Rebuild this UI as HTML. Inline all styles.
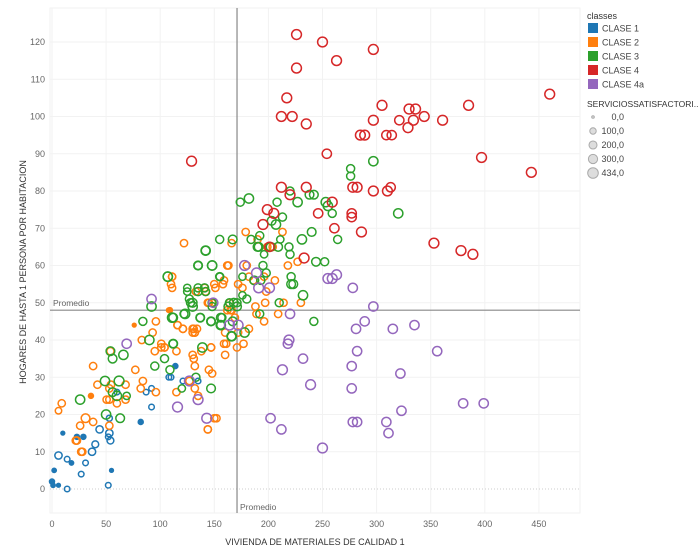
<!DOCTYPE html>
<html><head><meta charset="utf-8">
<style>
body{margin:0;background:#fff;font-family:"Liberation Sans",sans-serif;}
#wrap{position:relative;width:700px;height:560px;overflow:hidden;}
svg text{font-family:"Liberation Sans",sans-serif;}
</style></head>
<body>
<div id="wrap">
<svg id="chart" width="700" height="560">
  <g id="grid"></g>
  <g id="axes"></g>
  <g id="marks"></g>
  <text x="315" y="545" text-anchor="middle" font-size="9" fill="#333">VIVIENDA DE MATERIALES DE CALIDAD 1</text>
  <text transform="translate(26,272) rotate(-90)" text-anchor="middle" font-size="9" fill="#333">HOGARES DE HASTA 1 PERSONA POR HABITACION</text>
  <g id="legend">
    <text x="587" y="19" font-size="9" fill="#333">classes</text>
    <text x="587" y="107" font-size="8.5" fill="#333">SERVICIOSSATISFACTORI..</text>
  </g>
</svg>
</div>
<script>
const xTicks=[0,50,100,150,200,250,300,350,400,450];
const yTicks=[0,10,20,30,40,50,60,70,80,90,100,110,120];
const avgX=171, avgY=48;
const classNames=["CLASE 1","CLASE 2","CLASE 3","CLASE 4","CLASE 4a"];
const classColors=["#1f77b4","#ff7f0e","#2ca02c","#d62728","#9467bd"];
const sizeLegend=[0,100,200,300,434];
const sizeLabels=["0,0","100,0","200,0","300,0","434,0"];

const c1x=[53,44,53,54,52,37,40,31,27,23,29,10,6,14,18,2,0,1,6,14,52,55,82,92,92,87,60,110,121,135,114,108];
const c1y=[19,16,15,13,14,10,12,7,4,14,14,15,9,8,7,5,2,1,1,0,1,5,18,22,27,26,26,30,29,29,33,30];
const c1s=[80,150,150,120,60,150,120,60,60,40,40,10,150,60,20,20,40,20,10,60,60,10,40,60,60,60,60,60,60,60,40,60];

const c2x=[9,6,31,38,26,22,27,53,36,38,42,53,54.5,53,50.5,60,68,68,54,77,84,82,96,76,83,93,96,95,101,104,101,115,116,121,131,132,130,130,131,138,147,132,145,148,127,132,135,115,152,144,160,159,160,169,166,158,151,142,111,111,108,144,148,162,
122,179,166,190,199,204,213,163,180,218,227,111,110,141,150,159,133,172,176,182,186,196,206,198,197,214,230,145,148,164,165,162,188,189,209,196,109,116,121,130,132,134,182,172,104,147,161,177,171,150,144,23,28];
const c2y=[23,21,19,18,17,13,10,17,25,33,28,27,28,24,24,23,28,24,37,32,29,27,26,44,40,42,45,37,38,38,39,37,44,43,43,42,42,36,35,37,38,33,32,31,29,27,25,26,19,16,36,39,42,46,48,55,54,53,57,54,48,50,50,60,
66,69,66,67,65,65,69,60,60,60,61,57,55,54,55,56,53,55,54,57,56,57,56,53,50,50,50,50,50,50,48,48,49,47,47,45,48,44,43,43,42,43,43,42,38,38,39,39,38,19,16,13,10];
const c2s=[150,100,250,150,150,150,150,150,40,150,150,150,150,150,150,150,150,150,150,150,150,150,150,10,150,150,150,150,150,150,150,150,150,150,150,150,150,150,150,150,150,150,150,150,150,150,150,150,150,150,150,150,150,150,150,150,150,150,150,150,30,150,150,150,
150,150,150,150,150,150,150,150,150,150,150,150,150,150,150,150,150,150,150,150,150,150,150,150,150,150,150,150,150,150,150,150,150,150,150,150,40,150,150,150,150,150,150,150,150,150,150,150,150,150,150,150,150];

const c3x=[26,50,63,62,56,60,69,49,56,66,54,84,90,95,104,112,109,120,133,147,122,112,137,147,156,156,166,167,92,107,128,130,125,135,142,135,148,155,148,163,171,142,
276,276,220,227,238,242,253,255,259,208,213,203,207,182,174,192,184,190,191,202,209,211,219,231,240,220,196,264,244,252,167,155,142,135,148,155,176,195,198,193,187,221,221,223,232,107,125,135,141,127,130,148,164,168,171,180,176,210,242,111,123,137,147,157,156,166,178,192,112,139,297,320];
const c3y=[24,20,19,29,26,25,25,29,35,36,37,45,40,33,35,39,32,27,30,27,47,46,46,45,46,44,41,45,49,57,50,49,53,53,53,60,60,57,49,49,49,64,
86,84,80,77,79,79,77,76,74,77,73,72,71,78,77,68,67,65,65,65,65,67,65,67,69,63,63,67,61,61,67,67,64,60,60,57,57,60,58,56,56,57,55,55,52,57,54,54,54,51,50,50,50,50,50,51,52,50,45,46,47,46,45,46,44,41,42,47,39,38,88,74];
const c3s=[300,300,250,350,250,300,150,300,250,300,250,200,300,200,200,200,200,150,200,250,200,250,250,250,250,200,250,250,300,300,200,300,150,200,200,250,300,200,200,250,250,250,
200,200,200,300,250,250,300,300,200,200,200,250,300,300,200,200,200,250,250,250,250,150,200,300,250,200,150,200,250,200,250,200,300,200,300,150,150,200,200,200,250,200,250,250,300,300,150,200,200,200,250,200,200,250,200,200,150,200,200,300,300,200,200,200,300,300,300,200,250,300,300,300];

const c4x=[226,250,297,226,263,217,305,460,385,129,397,443,297,285,289,297,310,282,278,353,378,389,254,246,259,212,235,220,212,222,235,199,205,195,201,233,261,277,277,286,313,334,329,321,344,361,330,336,309,314];
const c4y=[122,120,118,113,115,105,103,106,103,88,89,85,99,95,95,80,80,81,81,66,64,63,90,74,77,81,81,79,100,100,98,75,74,71,65,62,70,73,74,69,81,99,97,99,100,99,102,102,95,95];
const c4s=[350,350,350,350,350,350,350,350,350,350,350,350,350,350,350,350,350,350,350,350,350,350,300,300,350,350,350,350,350,350,350,350,350,350,300,350,300,300,300,350,300,350,350,300,350,350,350,350,300,300];

const c5x=[92,69,135,143,116,127,178,189,191,201,220,219,255,259,263,278,281,164,172,149,218,232,239,213,202,212,250,277,277,278,289,297,309,311,322,323,335,315,356,380,399,282,282];
const c5y=[51,39,24,19,22,29,60,58,54,54,47,40,56.5,56.5,57.5,54,43,44,44,50,39,35,28,32,19,16,11,33,27,18,45,49,18,15,31,21,44,43,37,23,23,37,18];
const c5s=[300,300,350,350,350,350,350,350,350,350,300,350,350,350,350,300,300,350,350,300,300,300,350,350,300,300,350,300,300,300,300,300,300,300,300,300,300,300,300,300,300,300,300];

const PX0=50,PX1=580,PY0=8,PY1=513;
function sx(v){return 52+v*1.082;}
function sy(v){return 489-v*3.725;}
function rad(s){return 1.3+4*Math.sqrt(s/434);}
const NS="http://www.w3.org/2000/svg";
function mk(tag,attrs,parent){const e=document.createElementNS(NS,tag);for(const k in attrs)e.setAttribute(k,attrs[k]);parent.appendChild(e);return e;}
const grid=document.getElementById('grid'),axes=document.getElementById('axes'),marks=document.getElementById('marks'),legend=document.getElementById('legend');

mk('rect',{x:PX0,y:PY0,width:PX1-PX0,height:PY1-PY0,fill:'none',stroke:'#f2f2f2'},grid);
xTicks.forEach(function(t){
  const l=mk('line',{x1:sx(t),x2:sx(t),y1:PY0,y2:PY1,stroke:'#f2f2f2'},grid);
  
  
  const tx=mk('text',{x:sx(t),y:527,'text-anchor':'middle','font-size':9,fill:'#666'},axes);
  tx.textContent=t;
  
  
});
yTicks.forEach(function(t){
  const l=mk('line',{x1:PX0,x2:PX1,y1:sy(t),y2:sy(t),stroke:t===0?'#ccc':'#f2f2f2','stroke-dasharray':t===0?'1,2':''},grid);
  
  
  const tx=mk('text',{x:45,y:sy(t)+3,'text-anchor':'end','font-size':9,fill:'#666'},axes);
  tx.textContent=t;
  
  
});

const series=[[c1x,c1y,c1s],[c2x,c2y,c2s],[c3x,c3y,c3s],[c4x,c4y,c4s],[c5x,c5y,c5s]];
series.forEach(function(sr,ci){
  const g=mk('g',{},marks);
  
  
  for(let i=0;i<sr[0].length;i++){
    const s=sr[2][i]!==undefined?sr[2][i]:150;
    const r=rad(s);
    const c=mk('circle',{cx:sx(sr[0][i]),cy:sy(sr[1][i]),r:r,fill:r<2.6?classColors[ci]:'none',stroke:classColors[ci],'stroke-width':1.5},g);
    
    
  }
});

const hl=mk('line',{x1:PX0,x2:PX1,y1:sy(avgY),y2:sy(avgY),stroke:'#888','stroke-width':1.2},axes);


const ht=mk('text',{x:53,y:sy(avgY)-4,'font-size':8.5,fill:'#666'},axes);ht.textContent='Promedio';


const vl=mk('line',{x1:sx(avgX),x2:sx(avgX),y1:PY0,y2:PY1,stroke:'#888','stroke-width':1.2},axes);


const vt=mk('text',{x:sx(avgX)+3,y:510,'font-size':8.5,fill:'#666'},axes);vt.textContent='Promedio';



classNames.forEach(function(n,i){
  const y=23+i*14;
  const r=mk('rect',{x:588,y:y,width:10,height:10,fill:classColors[i]},legend);
  
  
  const t=mk('text',{x:602,y:y+8.5,'font-size':9,fill:'#444'},legend);t.textContent=n;
  
  
});
sizeLegend.forEach(function(s,i){
  const y=117+i*14;
  const c=mk('circle',{cx:593,cy:y,r:rad(s),fill:'#ddd',stroke:'#aaa','stroke-width':1},legend);
  
  
  const t=mk('text',{x:624,y:y+3,'text-anchor':'end','font-size':9,fill:'#444'},legend);t.textContent=sizeLabels[i];
  
  
});
</script>
</body></html>
